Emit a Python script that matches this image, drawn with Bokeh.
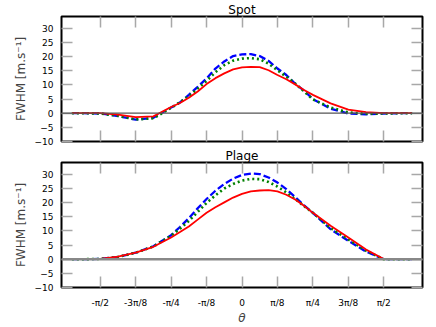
import numpy as np
from bokeh.plotting import figure
from bokeh.models import (Range1d, LinearAxis, FixedTicker, CustomJSTickFormatter,
                          Span, ColumnDataSource)
from bokeh.layouts import column
from bokeh.embed import file_html
from bokeh.resources import INLINE

# theta sample positions, in units of pi/16
theta_pi16 = [-9.6, -9, -8, -7, -6, -5, -4, -3.5, -3, -2.5, -2, -1.5, -1, -0.5,
              0, 0.5, 1, 1.5, 2, 2.5, 3, 3.5, 4, 5, 6, 7, 8, 9, 9.6]

spot_red   = [0, 0, 0.0, -0.5, -1.4, -1.1, 2.2, 3.6, 5.5, 7.7, 10.3, 12.4, 14.1, 15.5,
              16.2, 16.4, 16.3, 15.2, 13.5, 12.0, 10.2, 8.2, 6.5, 3.5, 1.3, 0.4, 0.05, 0, 0]
spot_green = [0, 0, -0.1, -0.9, -2.2, -1.8, 1.9, 3.9, 6.0, 8.7, 11.4, 14.5, 17.0, 18.6,
              19.3, 19.5, 19.1, 17.5, 15.2, 12.9, 10.5, 7.7, 4.9, 2.0, 0.3, -0.2, -0.1, 0, 0]
spot_blue  = [0, 0, -0.1, -1.0, -2.3, -1.6, 2.0, 3.8, 6.5, 9.3, 12.3, 15.8, 18.3, 20.2,
              20.8, 20.9, 20.2, 18.5, 15.8, 13.5, 10.4, 8.0, 5.0, 1.6, -0.1, -0.4, -0.1, 0, 0]

plage_red   = [0, 0, 0.1, 0.9, 2.3, 4.4, 7.7, 9.6, 11.6, 14.0, 16.4, 18.4, 20.1, 21.8,
               23.1, 24.0, 24.3, 24.4, 24.0, 22.8, 21.1, 18.9, 16.4, 11.8, 7.7, 3.4, 0.1, 0, 0]
plage_green = [0, 0, 0.1, 0.8, 2.3, 4.5, 8.3, 10.8, 13.5, 16.7, 19.9, 22.6, 25.0, 26.6,
               27.8, 28.4, 28.3, 27.3, 25.7, 23.6, 21.3, 18.8, 16.4, 11.0, 7.0, 3.0, 0.0, 0, 0]
plage_blue  = [0, 0, 0.1, 0.8, 2.3, 4.6, 8.5, 11.4, 14.5, 18.0, 21.3, 24.2, 26.6, 28.5,
               29.8, 30.3, 30.1, 28.9, 27.1, 24.8, 22.0, 19.0, 16.4, 10.6, 6.5, 2.7, 0.0, 0, 0]

titles = ["Spot", "Plage"]
x_tick_pi8 = [-4, -3, -2, -1, 0, 1, 2, 3, 4]
x_tick_labels = ["-\u03c0/2", "-3\u03c0/8", "-\u03c0/4", "-\u03c0/8", "0",
                 "\u03c0/8", "\u03c0/4", "3\u03c0/8", "\u03c0/2"]
y_ticks = [-10, -5, 0, 5, 10, 15, 20, 25, 30]
y_tick_labels = ["\u221210", "\u22125", "0", "5", "10", "15", "20", "25", "30"]
y_label = "FWHM [m.s\u207b\u00b9]"
x_label = "\u03b8"

theta = [k * np.pi / 16 for k in theta_pi16]
x_ticks = [k * np.pi / 8 for k in x_tick_pi8]

FONT = "DejaVu Sans"
TICK_COLOR = "#a8a8a8"
FRAME_H = 125


def make_fig(title, red, green, blue, bottom, zero_color, zero_width):
    p = figure(frame_width=361, frame_height=FRAME_H,
               x_range=Range1d(-2, 2), y_range=Range1d(-10, 34.2),
               output_backend="svg", toolbar_location=None,
               min_border_left=61, min_border_right=8,
               min_border_top=0,
               min_border_bottom=0 if bottom else 5,
               background_fill_color="white", border_fill_color="white")
    p.grid.visible = False
    p.outline_line_color = "black"
    p.outline_line_width = 2

    p.title.text = title
    p.title.align = "center"
    p.title.text_font = FONT
    p.title.text_font_size = "12px"
    p.title.text_font_style = "normal"
    p.title.text_color = "black"
    p.title.standoff = 0
    p.title.text_line_height = 1.0

    xfmt = CustomJSTickFormatter(args=dict(xlabels=x_tick_labels),
                                 code="const k = Math.round(tick/(Math.PI/8)); return xlabels[k+4];")
    yfmt = CustomJSTickFormatter(args=dict(ylabels=y_tick_labels, yvals=y_ticks),
                                 code="const i = yvals.indexOf(Math.round(tick)); return i >= 0 ? ylabels[i] : '';")
    blank = CustomJSTickFormatter(code="return '';")

    def style(ax, labels):
        ax.axis_line_color = None
        ax.major_tick_in = 11
        ax.major_tick_out = 0
        ax.major_tick_line_color = TICK_COLOR
        ax.major_tick_line_width = 1.5
        ax.minor_tick_line_color = None
        if not labels:
            ax.formatter = blank
            ax.major_label_standoff = 0
        else:
            ax.major_label_text_font = FONT
            ax.major_label_text_font_size = "9px"
            ax.major_label_text_color = "black"

    # left
    yl = p.yaxis[0]
    yl.ticker = FixedTicker(ticks=y_ticks)
    yl.formatter = yfmt
    style(yl, True)
    yl.major_label_standoff = 8
    yl.axis_label = y_label
    yl.axis_label_text_font = FONT
    yl.axis_label_text_font_size = "12px"
    yl.axis_label_text_font_style = "normal"
    yl.axis_label_standoff = 4

    # bottom
    xb = p.xaxis[0]
    xb.ticker = FixedTicker(ticks=x_ticks)
    if bottom:
        xb.formatter = xfmt
    style(xb, bottom)
    if bottom:
        xb.major_label_standoff = 10
        xb.axis_label = x_label
        xb.axis_label_text_font = FONT
        xb.axis_label_text_font_size = "12px"
        xb.axis_label_text_font_style = "italic"
        xb.axis_label_standoff = 0

    # top and right tick-only axes
    xt = LinearAxis(ticker=FixedTicker(ticks=x_ticks))
    style(xt, False)
    p.add_layout(xt, "above")
    yr = LinearAxis(ticker=FixedTicker(ticks=y_ticks))
    style(yr, False)
    p.add_layout(yr, "right")

    p.add_layout(Span(location=0, dimension="width", line_color=zero_color,
                      line_width=zero_width))

    src = ColumnDataSource(dict(x=theta, r=red, g=green, b=blue))
    p.line("x", "b", source=src, line_color="#0000ff", line_width=2.3,
           line_dash="7 3")
    p.line("x", "g", source=src, line_color="#008000", line_width=2.6,
           line_dash="2 3")
    p.line("x", "r", source=src, line_color="#ff0000", line_width=1.8)
    return p


p1 = make_fig(titles[0], spot_red, spot_green, spot_blue, False, "#555555", 1.3)
p2 = make_fig(titles[1], plage_red, plage_green, plage_blue, True, "#888888", 2.5)

layout = column(p1, p2, spacing=0)
open("out.html", "w").write(file_html(layout, INLINE))
